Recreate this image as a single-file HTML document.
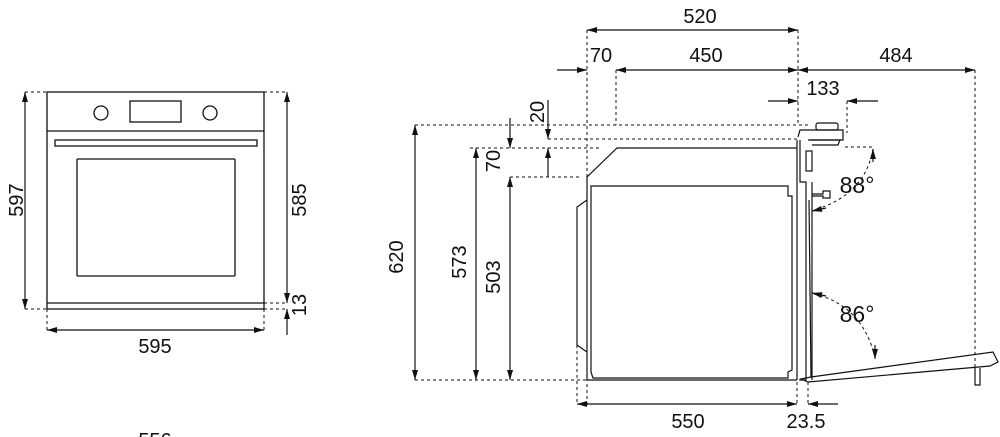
<!DOCTYPE html>
<html><head><meta charset="utf-8"><style>
html,body{margin:0;padding:0;background:#fff;}
svg{display:block;}
text{font-family:"Liberation Sans",sans-serif;font-size:20px;fill:#111;}
.big{font-size:23px;}
</style></head><body>
<svg width="1000" height="437" viewBox="0 0 1000 437" xmlns="http://www.w3.org/2000/svg">
<defs>
<marker id="a" viewBox="0 0 10 6" refX="10" refY="3" markerWidth="11" markerHeight="6" orient="auto-start-reverse" markerUnits="userSpaceOnUse">
<path d="M0,0 L10,3 L0,6 z" fill="#111"/></marker>
</defs>
<g stroke="#111" fill="none" stroke-width="1.3">
<rect x="47" y="92" width="217" height="217"/>
<line x1="47" y1="131" x2="264" y2="131"/>
<rect x="55" y="140" width="202" height="6"/>
<rect x="77" y="159" width="158" height="117" rx="1"/>
<line x1="47" y1="303" x2="264" y2="303"/>
<circle cx="101" cy="113" r="7"/>
<circle cx="210" cy="113" r="7"/>
<rect x="130" y="101" width="51" height="21"/>
</g>
<g stroke="#111" fill="none" stroke-width="1" stroke-dasharray="3,3">
<line x1="25" y1="92" x2="47" y2="92"/><line x1="25" y1="309" x2="47" y2="309"/>
<line x1="264" y1="92" x2="287" y2="92"/><line x1="264" y1="303" x2="287" y2="303"/><line x1="264" y1="309" x2="287" y2="309"/>
<line x1="47" y1="309" x2="47" y2="330"/><line x1="264" y1="309" x2="264" y2="330"/>
</g>
<g stroke="#111" stroke-width="1.2" fill="none">
<line x1="25" y1="92" x2="25" y2="309" marker-start="url(#a)" marker-end="url(#a)"/>
<line x1="287" y1="92" x2="287" y2="303" marker-start="url(#a)" marker-end="url(#a)"/>
<line x1="287" y1="335" x2="287" y2="309" marker-end="url(#a)"/>
<line x1="47" y1="330" x2="264" y2="330" marker-start="url(#a)" marker-end="url(#a)"/>
</g>
<text x="16" y="200" text-anchor="middle" transform="rotate(-90 16 200)" dy="7">597</text>
<text x="299" y="200" text-anchor="middle" transform="rotate(-90 299 200)" dy="7">585</text>
<text x="299" y="305" text-anchor="middle" transform="rotate(-90 299 305)" dy="7">13</text>
<text x="155" y="353" text-anchor="middle">595</text>
<text x="155" y="447" text-anchor="middle">556</text>

<g stroke="#111" fill="none" stroke-width="1" stroke-dasharray="3,3">
<line x1="587" y1="30" x2="587" y2="405"/>
<line x1="798" y1="30" x2="798" y2="125"/>
<line x1="616" y1="70" x2="616" y2="125"/>
<line x1="975" y1="70" x2="975" y2="370"/>
<line x1="847" y1="101" x2="847" y2="133"/>
<line x1="415" y1="125" x2="808" y2="125"/>
<line x1="548" y1="139" x2="800" y2="139"/>
<line x1="470" y1="148" x2="600" y2="148"/>
<line x1="510" y1="177" x2="580" y2="177"/>
<line x1="415" y1="380" x2="800" y2="380"/>
<line x1="577" y1="345" x2="577" y2="404"/>
<line x1="797" y1="382" x2="797" y2="404"/>
<line x1="808" y1="382" x2="808" y2="404"/>
<line x1="845" y1="147" x2="873" y2="147"/>
<path d="M873,149 Q865,195 814,210"/>
<path d="M814,294 Q862,305 875,357"/>
</g>
<g stroke="#111" stroke-width="1.2" fill="none">
<line x1="587" y1="30" x2="798" y2="30" marker-start="url(#a)" marker-end="url(#a)"/>
<line x1="557" y1="70" x2="587" y2="70" marker-end="url(#a)"/>
<line x1="616" y1="70" x2="798" y2="70" marker-start="url(#a)" marker-end="url(#a)"/>
<line x1="798" y1="70" x2="975" y2="70" marker-start="url(#a)" marker-end="url(#a)"/>
<line x1="768" y1="101" x2="798" y2="101" marker-end="url(#a)"/>
<line x1="878" y1="101" x2="847" y2="101" marker-end="url(#a)"/>
<line x1="415" y1="125" x2="415" y2="380" marker-start="url(#a)" marker-end="url(#a)"/>
<line x1="476" y1="148" x2="476" y2="380" marker-start="url(#a)" marker-end="url(#a)"/>
<line x1="510" y1="177" x2="510" y2="380" marker-start="url(#a)" marker-end="url(#a)"/>
<line x1="548" y1="100" x2="548" y2="139" marker-end="url(#a)"/>
<line x1="510" y1="118" x2="510" y2="148" marker-end="url(#a)"/>
<line x1="548" y1="177" x2="548" y2="148" marker-end="url(#a)"/>
<line x1="577" y1="404" x2="797" y2="404" marker-start="url(#a)" marker-end="url(#a)"/>
<line x1="838" y1="404" x2="808" y2="404" marker-end="url(#a)"/>
<line x1="873" y1="162" x2="873" y2="149" marker-end="url(#a)"/>
<line x1="826" y1="208" x2="812" y2="211" marker-end="url(#a)"/>
<line x1="826" y1="296" x2="812" y2="293" marker-end="url(#a)"/>
<line x1="875" y1="345" x2="875" y2="359" marker-end="url(#a)"/>
</g>
<g stroke="#111" fill="none" stroke-width="1.2">
<path d="M797,148 L617,148 L587,177 L587,380 L797,380"/>
<path d="M591,186 L788,186 L788,196 L792,196 L792,370 L788,372 L788,378 L593,378 L591,372 Z"/>
<path d="M587,200 L577,207 L577,345 L587,352"/>
<path d="M797,140 L797,380"/>
<path d="M800,140 L800,182 L806,182 L806,380 L800,380"/>
<path d="M812,182 L812,380"/>
<path d="M798,137 L800,130 L843,130 L843,140 L808,140"/>
<rect x="816" y="123" width="22" height="7" rx="2"/>
<path d="M810,140 L840,140 L838,145 L812,145"/>
<rect x="806" y="151" width="6" height="20"/>
<path d="M812,194 L823,194 L823,191 L830,191 L830,198 L823,198 L823,196 L812,196"/>
<path d="M808,382 L801,379 L811,377 L993,352 L998,362 L990,366 L808,382"/>
<path d="M811,377 L809,200"/>
<path d="M975,368 L975,385 L980,385 L980,368"/>
</g>
<text x="700" y="23" text-anchor="middle">520</text>
<text x="601" y="62" text-anchor="middle">70</text>
<text x="706" y="62" text-anchor="middle">450</text>
<text x="896" y="62" text-anchor="middle">484</text>
<text x="823" y="95" text-anchor="middle">133</text>
<text x="537" y="112" text-anchor="middle" transform="rotate(-90 537 112)" dy="7">20</text>
<text x="493" y="161" text-anchor="middle" transform="rotate(-90 493 161)" dy="7">70</text>
<text x="396" y="257" text-anchor="middle" transform="rotate(-90 396 257)" dy="7">620</text>
<text x="459" y="262" text-anchor="middle" transform="rotate(-90 459 262)" dy="7">573</text>
<text x="493" y="277" text-anchor="middle" transform="rotate(-90 493 277)" dy="7">503</text>
<text class="big" x="857" y="193" text-anchor="middle">88°</text>
<text class="big" x="857" y="322" text-anchor="middle">86°</text>
<text x="688" y="428" text-anchor="middle">550</text>
<text x="806" y="428" text-anchor="middle">23.5</text>
</svg>
</body></html>
